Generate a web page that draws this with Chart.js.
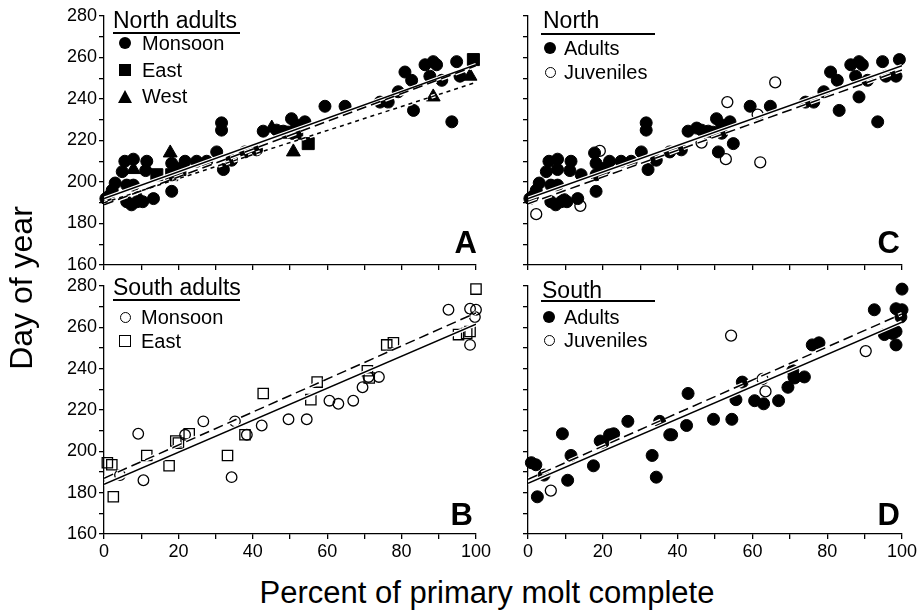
<!DOCTYPE html>
<html>
<head>
<meta charset="utf-8">
<script src="https://cdn.jsdelivr.net/npm/chart.js@4.4.0/dist/chart.umd.min.js"></script>
<style>
  body { margin: 0; background: #fff; width: 918px; height: 615px; position: relative; overflow: hidden;
         font-family: "Liberation Sans", Arial, sans-serif; color: #000; }
  canvas { position: absolute; }
  .t { position: absolute; line-height: 1; white-space: nowrap; }
  .rule { position: absolute; height: 1.5px; background: #000; }
  .mk { position: absolute; box-sizing: border-box; }
</style>
</head>
<body>
<canvas id="panel-a" width="500" height="285" style="left:0;top:0"></canvas>
<canvas id="panel-b" width="500" height="300" style="left:0;top:270px"></canvas>
<canvas id="panel-c" width="428" height="285" style="left:490px;top:0"></canvas>
<canvas id="panel-d" width="428" height="300" style="left:490px;top:270px"></canvas>

<div class="t" style="left:113px;top:9px;font-size:23px">North adults</div>
<div class="rule" style="left:113px;top:32px;width:127px"></div>
<div class="t" style="left:113px;top:276px;font-size:23px">South adults</div>
<div class="rule" style="left:113px;top:299px;width:127px"></div>
<div class="t" style="left:543px;top:9px;font-size:23px">North</div>
<div class="rule" style="left:541px;top:33px;width:114px"></div>
<div class="t" style="left:542px;top:279px;font-size:23px">South</div>
<div class="rule" style="left:541px;top:300px;width:114px"></div>

<div class="t" style="right:441px;top:227px;font-size:31px;font-weight:bold">A</div>
<div class="t" style="right:445px;top:499px;font-size:31px;font-weight:bold">B</div>
<div class="t" style="right:18px;top:227px;font-size:31px;font-weight:bold">C</div>
<div class="t" style="right:18px;top:499px;font-size:31px;font-weight:bold">D</div>

<div class="t" style="left:137px;top:577px;width:700px;text-align:center;font-size:31px">Percent of primary molt complete</div>
<div class="t" style="left:-129px;top:272px;width:300px;text-align:center;font-size:32px;transform:rotate(-90deg)">Day of year</div>

<script>
// percent of primary molt complete, day of year
const northMonsoon = [
  [0.5,192],[1.2,193],[2.2,196],[3.0,199.5],[4.9,205],[5.6,210],[7.9,211],[11.5,210],[11.2,205.5],
  [6.1,198.5],[7.9,198.5],[6.1,190.5],[7.4,189],[8.9,190.5],[10.4,190.5],[13.3,192],[18.2,195.5],
  [18.2,209],[20.0,206.5],[21.8,210],[24.9,210],[27.6,210],[30.3,214.5],[31.6,228.5],[31.6,225],
  [32.1,206],[34.3,210.5],[37.9,214.5],[41.0,215.5],[42.8,224.5],[46.4,225],[48.2,224.5],[50.4,230.5],
  [51.8,227.5],[54.0,229],[59.4,236.5],[64.8,236.5],[74.2,238.5],[76.4,238.5],[79.1,243.5],[80.9,253],
  [82.7,249],[83.2,234.5],[86.3,256.5],[88.5,258],[89.4,256.5],[87.6,251],[90.8,249],[94.8,258],
  [93.5,229],[95.7,251]
];
const northEast = [[14.2,203.5],[18.2,203.5],[20.4,206],[49.5,224],[51.8,223.5],[54.9,218.5],[99.3,259]];
const northWest = [[7.9,206],[9.7,191.5],[17.8,214],[45.1,226],[50.9,214.5],[88.5,241],[98.4,251]];
const northJuveniles = [[2.2,184.5],[14,188.5],[19.2,215],[46.4,219],[53.3,238.5],[52.9,211],[61.4,232.5],[62.1,209.5],[66.1,248]];

const southMonsoon = [
  [4.3,188.5],[10.6,186],[9.2,208.5],[21.8,208],[26.7,214.5],[35.2,214.5],[34.3,187.5],[38.4,208],
  [42.4,212.5],[49.6,215.5],[54.5,215.5],[60.6,224.5],[63.0,223],[67.0,224.5],[69.5,231],[71.1,236],
  [73.9,236],[92.6,268.5],[98.4,269],[100,268.5],[99.7,265],[98.4,251.5]
];
const southEast = [
  [0.9,194.5],[2.1,193.5],[2.5,178],[11.5,198],[17.5,193],[19.3,205],[20.0,204],[22.9,208.5],[33.2,198],
  [37.9,208],[42.8,228],[55.6,225],[57.3,233.5],[70.8,239],[71.3,235.5],[76.0,251.5],[77.8,252.5],
  [95.3,256.5],[97.5,257],[98.4,258],[100,278.5]
];
const southJuveniles = [[6.1,181],[54.3,256],[62.7,235],[63.5,229],[90.3,248.5]];

// regression lines, day of year at 0 and 100 %
const fitX = [0, 100];
const northMonsoonFit = [192, 256.5];
const northEastFit = [189, 256];
const northWestFit = [190, 248];
const northAdultFit = [192, 256];
const northJuvenileFit = [189.5, 254];
const southMonsoonFit = [184, 261.5];
const southEastFit = [187, 267];
const southAdultFit = [184.5, 262.5];
const southJuvenileFit = [186.5, 266.5];

const xTicks = [0, 20, 40, 60, 80, 100];
const yTicks = [160, 180, 200, 220, 240, 260, 280];

const FONT = '"Liberation Sans", Arial, sans-serif';
const LONG_DASH = [10, 5];
const SHORT_DASH = [4, 4];

// legend markers in html
function marker(cx, cy, style) {
  const el = document.createElement('div');
  el.className = 'mk';
  Object.assign(el.style, style);
  document.body.appendChild(el);
  const w = el.offsetWidth, h = el.offsetHeight;
  el.style.left = (cx - w / 2) + 'px';
  el.style.top = (cy - h / 2) + 'px';
}
function label(text, x, cy) {
  const el = document.createElement('div');
  el.className = 't';
  el.style.fontSize = '20px';
  el.style.left = x + 'px';
  el.style.top = (cy - 10) + 'px';
  el.textContent = text;
  document.body.appendChild(el);
}
const dot = { width: '12px', height: '12px', borderRadius: '50%', background: '#000' };
const ring = { width: '11px', height: '11px', borderRadius: '50%', border: '1.3px solid #000' };
const square = { width: '12px', height: '12px', background: '#000' };
const box = { width: '12px', height: '12px', border: '1.3px solid #000' };
const tri = { width: '0', height: '0', borderLeft: '7.5px solid transparent', borderRight: '7.5px solid transparent', borderBottom: '13px solid #000' };

marker(125, 43, dot);    label('Monsoon', 142, 43);
marker(125, 70, square); label('East', 142, 70);
marker(125, 96, tri);    label('West', 142, 96);
marker(125, 317, ring);  label('Monsoon', 141, 317);
marker(125, 341, box);   label('East', 141, 341);
marker(550, 48, dot);    label('Adults', 564, 48);
marker(550, 72, ring);   label('Juveniles', 564, 72);
marker(549, 317, dot);   label('Adults', 564, 317);
marker(549, 340, ring);  label('Juveniles', 564, 340);

function toPoints(pairs) {
  return pairs.map(([x, y]) => ({ x, y }));
}

function filled(pairs, style, radius) {
  return { data: toPoints(pairs), pointStyle: style, pointRadius: radius, pointBackgroundColor: '#000',
           pointBorderColor: '#000', pointBorderWidth: 1, showLine: false, clip: false, order: 2 };
}
function hollow(pairs, style, radius) {
  return { data: toPoints(pairs), pointStyle: style, pointRadius: radius, pointBackgroundColor: 'rgba(0,0,0,0)',
           pointBorderColor: '#000', pointBorderWidth: 1.3, showLine: false, clip: false, order: 2 };
}
// each fit line gets a white halo under it, like the original
function fitLine(ends, dash) {
  const pts = fitX.map((x, i) => ({ x, y: ends[i] }));
  return [
    { data: pts, showLine: true, pointRadius: 0, borderColor: '#fff', borderWidth: 4, borderDash: dash, order: 1 },
    { data: pts, showLine: true, pointRadius: 0, borderColor: '#000', borderWidth: 1.5, borderDash: dash, order: 0 }
  ];
}

function axis(min, max, ticks, showLabels, size, horizontal) {
  return {
    type: 'linear', min: min, max: max,
    ticks: {
      stepSize: 10, autoSkip: false, maxRotation: 0, padding: 2, color: '#000',
      font: { family: FONT, size: 18 },
      callback: v => (showLabels && ticks.includes(v)) ? String(v) : ''
    },
    grid: { drawOnChartArea: false, drawTicks: true, tickLength: 5, color: '#000', lineWidth: 1.3 },
    border: { color: '#000', width: 1.3 },
    afterFit: s => {
      if (horizontal) s.height = size; else s.width = size;
      s.paddingTop = 0; s.paddingBottom = 0; s.paddingLeft = 0; s.paddingRight = 0;
    }
  };
}

function makePanel(id, datasets, showX, showY, yWidth, xHeight, padRight) {
  return new Chart(document.getElementById(id), {
    type: 'scatter',
    data: { datasets: datasets },
    options: {
      responsive: false,
      animation: false,
      events: [],
      layout: { padding: { top: 16, right: padRight, left: 0, bottom: 0 } },
      plugins: { legend: { display: false }, tooltip: { enabled: false } },
      scales: {
        x: axis(0, 100, xTicks, showX, xHeight, true),
        y: axis(160, 280, yTicks, showY, yWidth, false)
      }
    }
  });
}

makePanel('panel-a', [
  filled(northMonsoon, 'circle', 6),
  filled(northEast, 'rect', 8.5),
  filled(northWest, 'triangle', 8),
  ...fitLine(northMonsoonFit, []),
  ...fitLine(northEastFit, LONG_DASH),
  ...fitLine(northWestFit, SHORT_DASH)
], false, true, 104, 20, 24);

makePanel('panel-b', [
  hollow(southMonsoon, 'circle', 5.3),
  hollow(southEast, 'rect', 7.3),
  ...fitLine(southMonsoonFit, []),
  ...fitLine(southEastFit, LONG_DASH)
], true, true, 104, 36, 24);

makePanel('panel-c', [
  filled(northMonsoon.concat(northEast, northWest), 'circle', 6),
  hollow(northJuveniles, 'circle', 5.5),
  ...fitLine(northAdultFit, []),
  ...fitLine(northJuvenileFit, LONG_DASH)
], false, false, 38, 20, 16);

makePanel('panel-d', [
  filled(southMonsoon.concat(southEast), 'circle', 6),
  hollow(southJuveniles, 'circle', 5.5),
  ...fitLine(southAdultFit, []),
  ...fitLine(southJuvenileFit, LONG_DASH)
], true, false, 38, 36, 16);
</script>
</body>
</html>
